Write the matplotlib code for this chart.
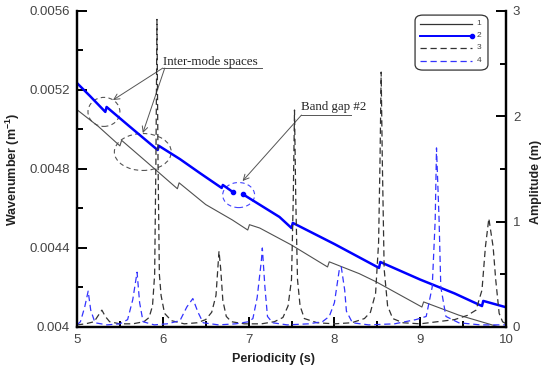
import matplotlib
matplotlib.use("Agg")
import matplotlib.pyplot as plt
from matplotlib.patches import Ellipse, FancyBboxPatch
from matplotlib.ticker import MultipleLocator

plt.rcParams['font.family'] = ['Liberation Sans', 'DejaVu Sans']
plt.rcParams['mathtext.fontset'] = 'custom'
plt.rcParams['mathtext.rm'] = 'Liberation Sans'
plt.rcParams['mathtext.bf'] = 'Liberation Sans:bold'

# line 1: wavenumber (black solid)
x1 = [5.00, 5.25, 5.50, 5.52, 5.80, 6.17, 6.19, 6.50, 6.81, 6.99, 7.01, 7.13, 7.50,
      7.92, 7.94, 8.29, 8.49, 9.02, 9.04, 9.45, 9.92, 10.0]
y1 = [0.00510, 0.005015, 0.004917, 0.004945, 0.00484, 0.00470, 0.00473, 0.00462,
      0.004542, 0.004491, 0.004518, 0.004501, 0.004415, 0.004304, 0.00433, 0.00427,
      0.004228, 0.004101, 0.004127, 0.00406, 0.00400, 0.003985]

# line 2: wavenumber (blue solid), split by band gap #2
x2a = [5.00, 5.15, 5.33, 5.345, 5.60, 5.94, 5.955, 6.20, 6.43, 6.686, 6.70, 6.814]
y2a = [0.005235, 0.00517, 0.005089, 0.005114, 0.00502, 0.004896, 0.004917,
       0.00485, 0.00478, 0.004704, 0.004719, 0.004684]
x2b = [6.93, 7.36, 7.50, 7.515, 8.00, 8.52, 8.535, 9.00, 9.40, 9.72, 9.735, 10.0]
y2b = [0.004673, 0.004557, 0.004501, 0.004527, 0.00442, 0.004299, 0.004329,
       0.00424, 0.00417, 0.004106, 0.004132, 0.0041]

# line 3: amplitude (black dashed)
x3 = [5.00, 5.10, 5.20, 5.24, 5.29, 5.33, 5.38, 5.50, 5.65, 5.78, 5.84, 5.88, 5.905,
      5.92, 5.932, 5.944, 5.96, 5.98, 6.02, 6.10, 6.25, 6.40, 6.50, 6.57, 6.62, 6.655,
      6.675, 6.70, 6.74, 6.80, 6.95, 7.15, 7.30, 7.40, 7.46, 7.50, 7.52, 7.535, 7.55,
      7.57, 7.60, 7.65, 7.80, 8.00, 8.20, 8.35, 8.42, 8.48, 8.515, 8.532, 8.545,
      8.558, 8.58, 8.62, 8.68, 8.80, 9.00, 9.20, 9.40, 9.55, 9.65, 9.72, 9.76, 9.80,
      9.85, 9.88, 9.92, 9.96, 10.0]
y3 = [0.02, 0.03, 0.05, 0.10, 0.16, 0.10, 0.05, 0.03, 0.03, 0.05, 0.09, 0.20, 0.50,
      1.60, 2.92, 1.60, 0.50, 0.30, 0.13, 0.06, 0.03, 0.04, 0.07, 0.14, 0.30, 0.72,
      0.55, 0.25, 0.10, 0.05, 0.03, 0.03, 0.05, 0.09, 0.20, 0.45, 1.20, 2.06, 1.20,
      0.45, 0.20, 0.08, 0.04, 0.03, 0.04, 0.08, 0.14, 0.32, 0.80, 1.60, 2.42, 1.60,
      0.55, 0.20, 0.08, 0.04, 0.03, 0.05, 0.07, 0.11, 0.16, 0.35, 0.76, 1.03, 0.76,
      0.45, 0.13, 0.05, 0.03]

# line 4: amplitude (blue dashed)
x4 = [5.00, 5.04, 5.09, 5.13, 5.16, 5.21, 5.35, 5.50, 5.59, 5.65, 5.70, 5.73, 5.77,
      5.90, 6.05, 6.20, 6.28, 6.35, 6.41, 6.47, 6.65, 6.85, 7.00, 7.05, 7.10, 7.15,
      7.16, 7.19, 7.22, 7.28, 7.45, 7.70, 7.86, 7.94, 8.00, 8.06, 8.08, 8.12, 8.14,
      8.21, 8.40, 8.70, 8.95, 9.07, 9.14, 9.175, 9.19, 9.22, 9.24, 9.30, 9.45, 9.70, 10.0]
y4 = [0.02, 0.05, 0.19, 0.34, 0.16, 0.04, 0.02, 0.03, 0.07, 0.26, 0.52, 0.23, 0.05,
      0.02, 0.03, 0.06, 0.19, 0.27, 0.14, 0.04, 0.02, 0.03, 0.05, 0.08, 0.28, 0.64,
      0.75, 0.38, 0.10, 0.04, 0.02, 0.03, 0.05, 0.10, 0.23, 0.56, 0.57, 0.35, 0.15,
      0.04, 0.02, 0.03, 0.07, 0.10, 0.38, 1.02, 1.70, 1.02, 0.38, 0.10, 0.04, 0.02, 0.02]

fig = plt.figure(figsize=(5.5, 3.66), dpi=100)
ax = fig.add_axes([0.14, 0.1066, 0.78, 0.8634])
ax2 = ax.twinx()

ax.plot(x1, y1, color='#505050', lw=0.8)
ax.plot(x2a, y2a, color='#0000ff', lw=1.8)
ax.plot(x2b, y2b, color='#0000ff', lw=1.8)
ax.plot([x2a[-1], x2b[0]], [y2a[-1], y2b[0]], 'o', color='#0000ff', ms=3, ls='none')

ax2.plot(x3, y3, color='#333333', lw=0.9, dashes=(5, 3))
ax2.plot(x4, y4, color='#3333ff', lw=0.9, dashes=(5, 3))

ax.set_xlim(5, 10)
ax.set_ylim(0.004, 0.0056)
ax2.set_ylim(0, 3)

ax.set_xticks([5, 6, 7, 8, 9, 10])
ax.xaxis.set_minor_locator(MultipleLocator(0.5))
ax.set_yticks([0.004, 0.0044, 0.0048, 0.0052, 0.0056])
ax.set_yticklabels(['0.004', '0.0044', '0.0048', '0.0052', '0.0056'])
ax.yaxis.set_minor_locator(MultipleLocator(0.0002))
ax2.set_yticks([0, 1, 2, 3])
ax2.yaxis.set_minor_locator(MultipleLocator(0.5))

for a in (ax, ax2):
    a.tick_params(which='major', direction='in', length=7, width=1.4,
                  labelsize=9.5, labelcolor='#444444', pad=5)
    a.tick_params(which='minor', direction='in', length=4.5, width=1.4)
    a.spines['top'].set_visible(False)
    for s in ('left', 'right', 'bottom'):
        a.spines[s].set_linewidth(1.6)
ax.tick_params(axis='x', pad=5)
ax.tick_params(axis='y', right=False)

ax.set_xlabel('Periodicity (s)', fontsize=9, fontweight='bold', color='#222222')
ax.xaxis.set_label_coords(0.457, -0.082)
ax.set_ylabel(r'Wavenumber (m$^{\mathbf{-1}}$)', fontsize=9, fontweight='bold',
              color='#222222')
ax.yaxis.set_label_coords(-0.128, 0.5)
ax2.set_ylabel('Amplitude (m)', fontsize=9, fontweight='bold', color='#222222')
ax2.yaxis.set_label_coords(1.056, 0.46)

# annotations
serif = ['Liberation Serif', 'DejaVu Serif']
ann_c = '#555555'
ax.text(6.0, 0.005329, 'Inter-mode spaces', family=serif, fontsize=9.4,
        va='baseline', color='#222222')
ax.plot([6.0, 7.151], [0.005311, 0.005311], color=ann_c, lw=0.7)
ax.annotate('', xy=(5.419, 0.005149), xytext=(6.0, 0.005311),
            arrowprops=dict(arrowstyle='->', color=ann_c, lw=0.7, shrinkA=0, shrinkB=0))
ax.annotate('', xy=(5.767, 0.004982), xytext=(6.023, 0.005311),
            arrowprops=dict(arrowstyle='->', color=ann_c, lw=0.7, shrinkA=0, shrinkB=0))
ax.text(7.616, 0.005099, 'Band gap #2', family=serif, fontsize=9.3,
        va='baseline', color='#222222')
ax.plot([7.616, 8.198], [0.005073, 0.005073], color=ann_c, lw=0.7)
ax.annotate('', xy=(6.93, 0.004739), xytext=(7.616, 0.005073),
            arrowprops=dict(arrowstyle='->', color=ann_c, lw=0.7, shrinkA=0, shrinkB=0))

ax.add_patch(Ellipse((5.314, 0.005089), 0.372, 0.000147, fill=False,
                     ec='#555555', lw=0.8, ls=(0, (4, 3))))
ax.add_patch(Ellipse((5.767, 0.004886), 0.663, 0.000187, fill=False,
                     ec='#555555', lw=0.8, ls=(0, (4, 3))))
ax.add_patch(Ellipse((6.884, 0.004668), 0.372, 0.000127, fill=False,
                     ec='#4444ff', lw=0.8, ls=(0, (4, 3))))

# legend box
leg = FancyBboxPatch((0.788, 0.813), 0.17, 0.174, transform=ax2.transAxes,
                     boxstyle='round,pad=0,rounding_size=0.018', fc='white',
                     ec='#333333', lw=0.9, zorder=5)
ax2.add_patch(leg)
rows = [0.959, 0.921, 0.883, 0.842]
styles = [dict(color='#333333', lw=0.9),
          dict(color='#0000ff', lw=1.4),
          dict(color='#333333', lw=0.9, dashes=(5, 3)),
          dict(color='#3333ff', lw=0.9, dashes=(5, 3))]
for i, (ry, st) in enumerate(zip(rows, styles)):
    ax2.plot([0.80, 0.921], [ry, ry], transform=ax2.transAxes, zorder=6, **st)
    ax2.text(0.932, ry, str(i + 1), transform=ax2.transAxes, fontsize=6,
             va='center', color='#444444', zorder=6)
ax2.plot([0.921], [rows[1]], 'o', color='#0000ff', ms=3, transform=ax2.transAxes,
         zorder=6)

fig.savefig('out.png', dpi=100)
